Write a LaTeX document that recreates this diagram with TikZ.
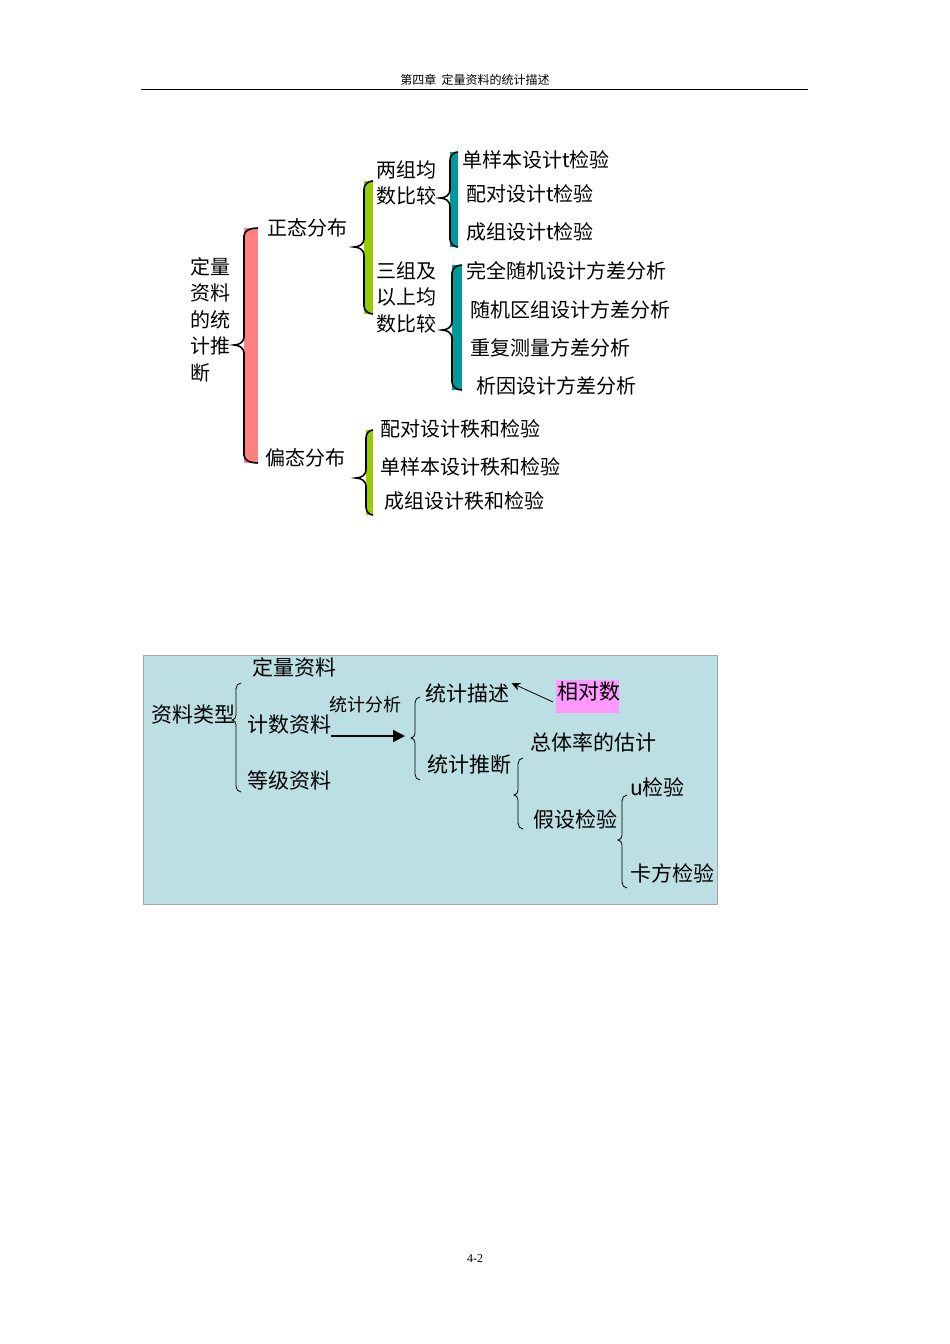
\documentclass[tikz,border=0pt]{standalone}
\usepackage{fontspec}
\setmainfont{Liberation Serif}
\newfontfamily\cjk{Noto Sans CJK SC}
\usetikzlibrary{arrows.meta}
\definecolor{pinkbar}{HTML}{FF8080}
\definecolor{limebar}{HTML}{99CC00}
\definecolor{tealbar}{HTML}{009999}
\definecolor{boxbg}{HTML}{BBDFE2}
\definecolor{tagbg}{HTML}{FF99FF}
% coloured curly bar: x, top, bottom, middle, width, colour
\newcommand\cbar[6]{%
  \fill[#6] (#1,#2) rectangle ({#1+#5},#3);
  \draw[line width=1.6pt] ({#1+#5},#2) to[out=180,in=90] (#1,{#2+8}) -- (#1,{#4-8})
    to[out=-90,in=0] ({#1-10},#4) to[out=0,in=90] (#1,{#4+8}) -- (#1,{#3-8})
    to[out=-90,in=180] ({#1+#5},#3);}
% thin curly brace: x, top, bottom, middle
\newcommand\tbrace[4]{%
  \draw[line width=0.8pt] ({#1+5},#2) to[out=180,in=90] (#1,{#2+6}) -- (#1,{#4-5})
    to[out=-90,in=0] ({#1-4},#4) to[out=0,in=90] (#1,{#4+5}) -- (#1,{#3-6})
    to[out=-90,in=180] ({#1+5},#3);}
\begin{document}
\begin{tikzpicture}[x=1pt,y=-1pt]
  \tikzset{leaf/.style = {anchor=west, inner sep=0pt, font=\cjk\fontsize{20}{22}\selectfont}}
  \tikzset{item/.style = {anchor=west, inner sep=0pt, font=\cjk\fontsize{21}{22}\selectfont}}
  \useasboundingbox[fill=white] (0,0) rectangle (950,1344);

  % header and footer
  \node[font=\cjk\fontsize{12}{14}\selectfont] (head) at (475,80) {第四章\ \ 定量资料的统计描述};
  \draw[line width=0.6pt] (141,89) -- (808,89);
  \node[font=\fontsize{12}{14}\selectfont] (foot) at (475,1259) {4-2};

  % upper tree
  \cbar{244}{228}{463}{345}{14}{pinkbar}
  \cbar{364}{181}{314}{247}{9}{limebar}
  \cbar{450}{152}{247}{198}{8}{tealbar}
  \cbar{452}{265}{390}{330}{10}{tealbar}
  \cbar{366}{430}{515}{478}{7}{limebar}
  \foreach \t [count=\i] in {定量,资料,的统,计推,断}
    \node[leaf] (root\i) at (190,{240+26.5*\i}) {\t};
  \node[leaf] (normal) at (267,228) {正态分布};
  \node[leaf] (skew) at (265,458) {偏态分布};
  \node[leaf] (twoa) at (376,170) {两组均};
  \node[leaf] (twob) at (376,196) {数比较};
  \node[leaf] (mula) at (376,271) {三组及};
  \node[leaf] (mulb) at (376,297) {以上均};
  \node[leaf] (mulc) at (376,324) {数比较};
  \node[leaf] (tone) at (462,160) {单样本设计t检验};
  \node[leaf] (tpair) at (466,194) {配对设计t检验};
  \node[leaf] (tgroup) at (466,232) {成组设计t检验};
  \node[leaf] (acr) at (466,271) {完全随机设计方差分析};
  \node[leaf] (arb) at (470,310) {随机区组设计方差分析};
  \node[leaf] (arm) at (470,348) {重复测量方差分析};
  \node[leaf] (afa) at (476,386) {析因设计方差分析};
  \node[leaf] (rpair) at (380,429) {配对设计秩和检验};
  \node[leaf] (rone) at (380,467) {单样本设计秩和检验};
  \node[leaf] (rgroup) at (384,501) {成组设计秩和检验};

  % lower box
  \draw[gray!70, fill=boxbg] (143,655) rectangle (717,904);
  \fill[tagbg] (556,680) rectangle (619,713);
  \node[item] (quant) at (252,667) {定量资料};
  \node[item] (types) at (151,715) {资料类型};
  \node[item] (count) at (247,725) {计数资料};
  \node[item] (grade) at (247,780) {等级资料};
  \node[item, font=\cjk\fontsize{18}{20}\selectfont] (anal) at (329,705) {统计分析};
  \node[item] (desc) at (425,693) {统计描述};
  \node[item] (infer) at (427,765) {统计推断};
  \node[item] (rel) at (557,692) {相对数};
  \node[item] (rate) at (530,742) {总体率的估计};
  \node[item] (hyp) at (533,819) {假设检验};
  \node[item] (utest) at (630,787) {u检验};
  \node[item] (chi) at (630,873) {卡方检验};
  \tbrace{236}{683}{792}{720}
  \tbrace{415}{697}{780}{738}
  \tbrace{518}{758}{829}{795}
  \tbrace{622}{795}{888}{840}
  \draw[line width=1.5pt, -{Triangle[length=12pt,width=12pt]}] (count.east) ++(0,11) coordinate (c0) -- (405,736) coordinate (c1);
  \draw[line width=0.8pt, -{Stealth[length=9pt,width=8pt]}] (rel.west) ++(-4,10) -- ([xshift=2pt,yshift=10pt]desc.east);
\end{tikzpicture}
\end{document}
